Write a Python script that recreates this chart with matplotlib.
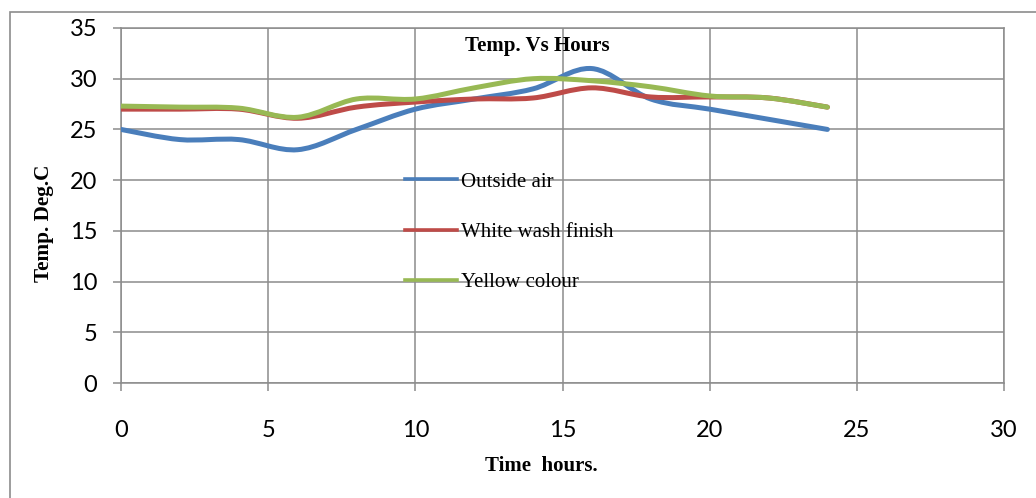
import matplotlib
matplotlib.use('Agg')
import matplotlib.pyplot as plt
import matplotlib.patches as mpatches
from matplotlib.path import Path
from matplotlib.lines import Line2D
import numpy as np

# time of day in hours
hours = [0, 2, 4, 6, 8, 10, 12, 14, 16, 18, 20, 22, 24]

# temperatures, deg C
outsideAir = [25, 24, 24, 23, 25, 27, 28, 29, 31, 28, 27, 26, 25]
whiteWash = [27, 27, 27, 26.1, 27.2, 27.7, 28, 28.1, 29.1, 28.2, 28.2, 28.1, 27.2]
yellowColour = [27.3, 27.2, 27.1, 26.2, 28, 28, 29.1, 30, 29.8, 29.2, 28.3, 28.1, 27.2]

seriesNames = ['Outside air', 'White wash finish', 'Yellow colour']
seriesColors = ['#4A7EBB', '#BE4B48', '#98B954']

xTicks = [0, 5, 10, 15, 20, 25, 30]
yTicks = [0, 5, 10, 15, 20, 25, 30, 35]

gridCol = '#8C8C8C'
serif = 'Liberation Serif'
sans = 'Lato'


def smooth_path(xs, ys):
    '''
    excel-like smoothed line: cubic bezier segments through the points
    '''
    xs = np.asarray(xs, float)
    ys = np.asarray(ys, float)
    n = len(xs)
    verts = [(xs[0], ys[0])]
    codes = [Path.MOVETO]
    for i in range(n - 1):
        i0 = max(i - 1, 0)
        i3 = min(i + 2, n - 1)
        c1 = (xs[i] + (xs[i + 1] - xs[i0]) / 6.0,
              ys[i] + (ys[i + 1] - ys[i0]) / 6.0)
        c2 = (xs[i + 1] - (xs[i3] - xs[i]) / 6.0,
              ys[i + 1] - (ys[i3] - ys[i]) / 6.0)
        verts += [c1, c2, (xs[i + 1], ys[i + 1])]
        codes += [Path.CURVE4] * 3
    return Path(verts, codes)


fig = plt.figure(figsize=(10.36, 4.98), dpi=100)
W, H = 1036, 498
ax = fig.add_axes([121 / W, 1 - 383 / H, (1004 - 121) / W, (383 - 28) / H])

# outer chart border
fig.patches.append(mpatches.Rectangle((9.5 / W, -0.1), 1.2, 1.1 - 12 / H,
                                      transform=fig.transFigure,
                                      fill=False, edgecolor='#8C8C8C',
                                      linewidth=1.2))

for vals, col in zip([outsideAir, whiteWash, yellowColour], seriesColors):
    patch = mpatches.PathPatch(smooth_path(hours, vals), fill=False,
                               edgecolor=col, linewidth=3.6,
                               capstyle='round', joinstyle='round', zorder=3)
    ax.add_patch(patch)

ax.set_xlim(0, 30)
ax.set_ylim(0, 35)
ax.set_xticks(xTicks)
ax.set_yticks(yTicks)
ax.grid(True, color=gridCol, linewidth=1.1)
ax.set_axisbelow(True)
for s in ax.spines.values():
    s.set_color(gridCol)
    s.set_linewidth(1.1)
ax.tick_params(axis='both', color=gridCol, width=1.1, length=6,
               labelsize=17)
ax.tick_params(axis='y', pad=11)
ax.tick_params(axis='x', pad=20.5)
for lab in ax.get_xticklabels() + ax.get_yticklabels():
    lab.set_family(sans)

fig.text(537 / W, 1 - 46 / H, 'Temp. Vs Hours', family=serif,
         fontweight='bold', fontsize=15, ha='center', va='center')
fig.text(541 / W, 1 - 466 / H, 'Time  hours.', family=serif,
         fontweight='bold', fontsize=15, ha='center', va='center')
fig.text(44 / W, 1 - 223 / H, 'Temp. Deg.C', family=serif,
         fontweight='bold', fontsize=15.3, ha='center', va='center',
         rotation=90)

handles = [Line2D([], [], color=c, linewidth=2.6) for c in seriesColors]
leg = ax.legend(handles, seriesNames, loc='upper left', frameon=False,
                bbox_to_anchor=(405 / W, 1 - 172 / H),
                bbox_transform=fig.transFigure,
                borderpad=0, borderaxespad=0,
                handlelength=2.5, handletextpad=0.2, labelspacing=1.48,
                prop={'family': serif, 'size': 15})

plt.savefig('out.png', dpi=100, facecolor='white')
plt.close('all')
